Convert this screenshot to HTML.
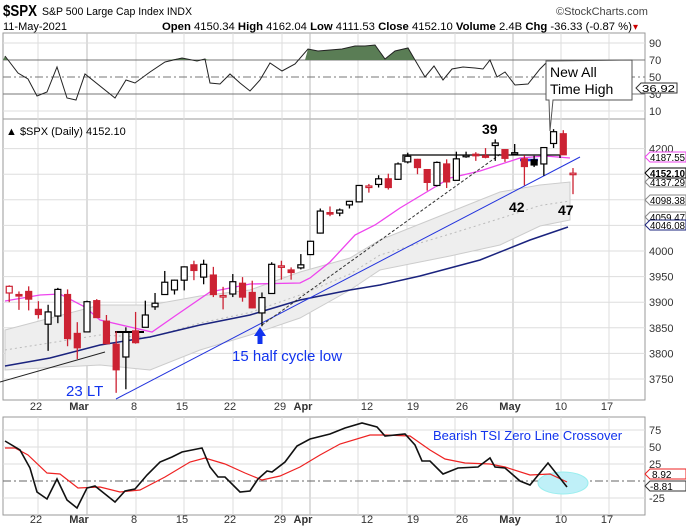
<!DOCTYPE html>
<html><head><meta charset="utf-8"><style>
body{margin:0;background:#fff;width:686px;height:528px;overflow:hidden;font-family:"Liberation Sans",sans-serif}
svg{display:block}
text{font-family:"Liberation Sans",sans-serif}
</style></head><body>
<svg id="s" width="686" height="528" xmlns="http://www.w3.org/2000/svg">
<rect width="686" height="528" fill="#fff"/>
<text x="3" y="16" font-size="16" font-weight="bold" textLength="34" lengthAdjust="spacingAndGlyphs">$SPX</text>
<text x="42" y="15" font-size="11" textLength="150" lengthAdjust="spacingAndGlyphs">S&amp;P 500 Large Cap Index  INDX</text>
<text x="3" y="30" font-size="11">11-May-2021</text>
<text x="162" y="30" font-size="11" textLength="470" lengthAdjust="spacingAndGlyphs"><tspan font-weight="bold">Open</tspan> 4150.34 <tspan font-weight="bold">High</tspan> 4162.04 <tspan font-weight="bold">Low</tspan> 4111.53 <tspan font-weight="bold">Close</tspan> 4152.10 <tspan font-weight="bold">Volume</tspan> 2.4B <tspan font-weight="bold">Chg</tspan> -36.33 (-0.87 %)</text>
<text x="633" y="30" font-size="10" fill="#c00">▾</text>
<text x="556" y="15" font-size="11" fill="#444">©StockCharts.com</text>
<g id="g"></g>
</svg>
<script>
const g=document.getElementById('g');let h='';
const L=3,R=645;
const X=i=>87+i*9.72;
h+=`<rect x="${L}" y="33" width="${R-L}" height="86" fill="none" stroke="#999"/>`;
h+=`<rect x="${L}" y="119" width="${R-L}" height="281" fill="none" stroke="#999"/>`;
h+=`<rect x="${L}" y="417" width="${R-L}" height="98" fill="none" stroke="#999"/>`;
const lab=[["22",36],["Mar",79],["8",134],["15",182],["22",230],["29",280],["Apr",303],["12",367],["19",413],["26",462],["May",510],["10",561],["17",607]];
const gx=[38,87,136,184,233,282,310,358,407,455,513,561,609];
gx.forEach((x,k)=>{const m=[1,6,10].includes(k);const c=m?'#bbb':'#ddd';
[[33,119],[119,400],[417,515]].forEach(([a,b])=>h+=`<line x1="${x}" y1="${a}" x2="${x}" y2="${b}" stroke="${c}"/>`);});
lab.forEach(([t,x])=>{const b=['Mar','Apr','May'].includes(t);[410,523].forEach(y=>h+=`<text x="${x}" y="${y}" font-size="11" text-anchor="middle" ${b?'font-weight="bold"':''} fill="#333">${t}</text>`)});
const ry=v=>94-(v-30)*0.85;
[90,10].forEach(v=>h+=`<line x1="${L}" y1="${ry(v)}" x2="${R}" y2="${ry(v)}" stroke="#ddd"/>`);
[70,30].forEach(v=>h+=`<line x1="${L}" y1="${ry(v)}" x2="${R}" y2="${ry(v)}" stroke="#777"/>`);
h+=`<line x1="${L}" y1="${ry(50)}" x2="${R}" y2="${ry(50)}" stroke="#777" stroke-dasharray="8,3,2,3"/>`;
[90,70,50,30,10].forEach(v=>h+=`<text x="649" y="${ry(v)+4}" font-size="11" fill="#333">${v}</text>`);
const rsi=[[5,56],[18,73],[28,79],[37,96],[47,92],[57,67],[67,98],[76,100],[85,74],[115,98],[126,80],[135,83],[150,72],[165,62],[182,58],[197,61],[205,59],[210,83],[220,84],[230,74],[240,83],[250,91],[260,80],[270,63],[282,71],[295,64],[308,49],[318,51],[330,50],[342,49],[355,46],[365,46],[375,45],[385,59],[395,51],[408,48],[415,60],[425,77],[434,66],[443,80],[452,69],[463,67],[475,68],[483,69],[490,60],[497,77],[505,72],[515,85],[528,84],[540,69],[548,61]];
h+=`<polygon points="305,60 ${rsi.filter(p=>p[0]>=308&&p[0]<=415).map(p=>p.join(',')).join(' ')} 415,60" fill="#5a7d55"/>`;
h+=`<polygon points="168,60 182,58 197,61 205,59 210,60" fill="#5a7d55"/>`;
h+=`<polygon points="3,60 5,56 8,60" fill="#5a7d55"/>`;
h+=`<polyline points="${rsi.map(p=>p.join(',')).join(' ')}" fill="none" stroke="#222" stroke-width="1"/>`;
h+=`<path d="M546,61 L546,100 L549,100 L550,131 L553,100 L632,100 L632,60 Z" fill="#fff" stroke="#555"/>`;
h+=`<text x="550" y="77" font-size="14">New All</text><text x="550" y="94" font-size="14">Time High</text>`;
h+=`<path d="M636,88 l5,-5 h36 v10 h-36 z" fill="#fff" stroke="#333"/><text x="642" y="92" font-size="10" textLength="33" lengthAdjust="spacingAndGlyphs">36.92</text>`;
const Y=p=>251-(p-4000)*0.512;
for(let p=3750;p<=4200;p+=50){h+=`<line x1="${L}" y1="${Y(p)}" x2="${R}" y2="${Y(p)}" stroke="#ddd"/>`;
 if(p!=4050&&p!=4100&&p!=4150)h+=`<text x="649" y="${Y(p)+4}" font-size="11" fill="#333">${p}</text>`;}
h+=`<text x="6" y="135" font-size="11">▲ $SPX (Daily) 4152.10</text>`;
const up=[[5,330],[100,305],[150,305],[200,296],[250,290],[300,272],[350,258],[380,240],[450,212],[500,192],[540,185],[570,182]];
const lo=[[5,370],[100,365],[150,370],[200,350],[250,335],[300,318],[350,290],[380,270],[450,256],[500,245],[540,226],[570,220]];
h+=`<polygon points="${up.map(p=>p.join(',')).join(' ')} ${lo.slice().reverse().map(p=>p.join(',')).join(' ')}" fill="#eee" stroke="#ccc"/>`;
h+=`<polyline points="${up.map((p,i)=>p[0]+','+((p[1]+lo[i][1])/2)).join(' ')}" fill="none" stroke="#bbb" stroke-dasharray="2,3"/>`;
h+=`<polyline points="5,366 50,358 100,345 150,337 200,325 250,315 300,300 350,290 380,285 420,276 480,260 530,240 568,227" fill="none" stroke="#1a237e" stroke-width="1.5"/>`;
h+=`<polyline points="5,301 40,295 60,294 85,307 100,320 130,327 152,332 175,316 210,292 250,284 300,283 310,278 330,262 355,235 375,225 400,208 420,196 450,178 480,171 520,158 545,156 570,158" fill="none" stroke="#ee44ee" stroke-width="1.3"/>`;
h+=`<line x1="116" y1="399" x2="580" y2="157" stroke="#2233dd"/>`;
h+=`<line x1="262" y1="325" x2="502" y2="153" stroke="#333" stroke-dasharray="3,2"/>`;
h+=`<line x1="0" y1="382" x2="105" y2="352" stroke="#222"/>`;
h+=`<line x1="115" y1="332" x2="144" y2="332" stroke="#000" stroke-width="2"/>`;
h+=`<polyline points="403,162 403,155 560,155 560,158" fill="none" stroke="#000" stroke-width="1.3"/>`;
h+=`<line x1="520" y1="160" x2="538" y2="160" stroke="#2233ee" stroke-width="2.5"/>`;
const d=[[-8,3918,3933,3900,3931],[-7,3915,3921,3885,3914],[-6,3921,3931,3884,3906],[-5,3886,3902,3868,3876],[-4,3857,3895,3805,3881],[-3,3873,3928,3859,3925],[-2,3915,3925,3814,3829],[-1,3839,3861,3789,3811],[0,3842,3903,3842,3901],[1,3903,3906,3869,3870],[2,3863,3875,3818,3819],[3,3818,3843,3723,3768],[4,3793,3851,3730,3841],[5,3844,3881,3819,3821],[6,3851,3903,3851,3875],[7,3891,3918,3885,3898],[8,3915,3961,3915,3939],[9,3924,3944,3915,3943],[10,3943,3970,3923,3969],[11,3973,3981,3943,3962],[12,3949,3983,3935,3974],[13,3953,3969,3910,3915],[14,3913,3930,3886,3913],[15,3916,3955,3910,3940],[16,3937,3949,3901,3910],[17,3919,3942,3888,3889],[18,3879,3919,3853,3909],[19,3917,3978,3917,3974],[20,3969,3981,3944,3971],[21,3963,3968,3944,3958],[22,3967,3994,3964,3973],[23,3993,4020,3992,4019],[24,4035,4083,4034,4078],[25,4075,4087,4068,4073],[26,4074,4083,4068,4080],[27,4090,4098,4083,4097],[28,4096,4129,4095,4128],[29,4124,4131,4114,4127],[30,4130,4148,4124,4141],[31,4141,4151,4120,4124],[32,4140,4173,4139,4170],[33,4174,4192,4171,4185],[34,4179,4180,4150,4163],[35,4159,4159,4118,4134],[36,4128,4175,4126,4173],[37,4170,4179,4123,4135],[38,4138,4194,4138,4180],[39,4185,4194,4182,4187],[40,4189,4193,4176,4186],[41,4186,4201,4181,4183],[42,4206,4218,4176,4211],[43,4198,4199,4174,4181],[44,4191,4209,4188,4192],[45,4180,4187,4128,4165],[46,4178,4186,4164,4168],[47,4170,4202,4147,4202],[48,4210,4238,4201,4233],[49,4229,4236,4188,4188],[50,4150,4162,4111,4152]];
let pc=3933;
d.forEach(([i,o,hi,lw,c])=>{const x=X(i);const col=c<pc?'#cc2233':'#000';const top=Y(Math.max(o,c)),bot=Y(Math.min(o,c));const fill=c<o?col:'#fff';
h+=`<line x1="${x}" y1="${Y(hi)}" x2="${x}" y2="${Y(lw)}" stroke="${col}" stroke-width="1.3"/>`;
h+=`<rect x="${x-3}" y="${top}" width="6" height="${Math.max(bot-top,1.5)}" fill="${fill}" stroke="${col}" stroke-width="1.2"/>`;pc=c;});
h+=`<path d="M254,336 L260,327 L266,336 L262.5,336 L262.5,344 L257.5,344 L257.5,336 Z" fill="#1133ee"/>`;
h+=`<text x="232" y="361" font-size="15" fill="#1133ee">15 half cycle low</text>`;
h+=`<text x="66" y="396" font-size="15" fill="#1133ee">23 LT</text>`;
h+=`<text x="482" y="134" font-size="14" font-weight="bold">39</text>`;
h+=`<text x="509" y="212" font-size="14" font-weight="bold">42</text>`;
h+=`<text x="558" y="215" font-size="14" font-weight="bold">47</text>`;
const pl=[[4187.55,157,'#ee44ee',''],[4137.29,182,'#888',''],[4152.10,173,'#000','bold'],[4098.38,200,'#888',''],[4059.47,217,'#888',''],[4046.08,225,'#1a237e','']];
pl.forEach(([v,y,c,b])=>h+=`<path d="M645,${y} l5,-5 h36 v10 h-36 z" fill="#fff" stroke="${c}"/><text x="650" y="${y+4}" font-size="10" font-weight="${b||'normal'}" textLength="35" lengthAdjust="spacingAndGlyphs">${v.toFixed(2)}</text>`);
const ty=v=>481-v*0.68;
[75,50,25,-25].forEach(v=>{h+=`<line x1="${L}" y1="${ty(v)}" x2="${R}" y2="${ty(v)}" stroke="#ddd"/><text x="649" y="${ty(v)+4}" font-size="11" fill="#333">${v}</text>`});
h+=`<line x1="${L}" y1="481" x2="${R}" y2="481" stroke="#666" stroke-dasharray="8,3,2,3"/>`;
h+=`<ellipse cx="563" cy="483" rx="25" ry="11" fill="#bff0f8" stroke="#9ee"/>`;
h+=`<polyline points="5,448 15,448 28,455 47,473 60,474 78,488 100,487 120,492 140,490 165,477 190,462 205,458 225,464 245,473 262,480 280,476 300,467 320,455 340,444 370,435 385,435 410,436 430,450 445,459 465,463 490,464 505,467 530,475 550,474 567,482" fill="none" stroke="#ee2222" stroke-width="1.2"/>`;
h+=`<polyline points="5,441 20,450 30,468 37,492 47,499 57,479 67,500 77,508 87,488 95,486 105,494 115,502 125,491 135,489 147,475 160,462 172,457 182,452 202,448 210,467 218,477 225,477 240,492 250,491 258,479 267,471 272,472 285,462 297,446 310,439 330,434 345,428 362,423 377,427 385,436 405,434 415,445 422,461 430,461 443,474 458,468 478,467 490,458 495,467 505,468 520,481 530,485 548,463 567,487" fill="none" stroke="#111" stroke-width="1.6"/>`;
h+=`<text x="433" y="440" font-size="13" fill="#1133ee">Bearish TSI Zero Line Crossover</text>`;
h+=`<path d="M645,474 l5,-5 h36 v10 h-36 z" fill="#fff" stroke="#e22"/><text x="652" y="478" font-size="10">8.92</text>`;
h+=`<path d="M645,486 l5,-5 h36 v10 h-36 z" fill="#fff" stroke="#333"/><text x="650" y="490" font-size="10">-8.81</text>`;
g.innerHTML=h;
</script>
</body></html>
